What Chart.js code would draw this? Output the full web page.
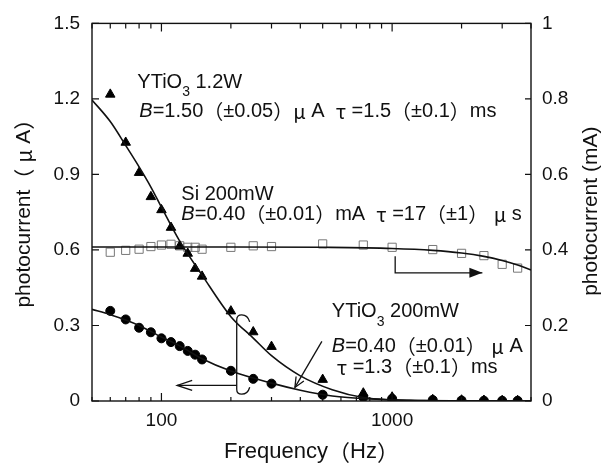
<!DOCTYPE html>
<html>
<head>
<meta charset="utf-8">
<script src="https://cdn.jsdelivr.net/npm/chart.js@4.4.1/dist/chart.umd.min.js"></script>
<style>
  html, body { margin: 0; background: #fff; }
  canvas { display: block; }
</style>
</head>
<body>
<canvas id="chart" width="604" height="471"></canvas>
<script>
// measured frequencies (Hz)
const freqs = [60, 70, 80, 90, 100, 110, 120, 130, 140, 150, 200, 250, 300, 500, 750, 1000, 1500, 2000, 2500, 3000, 3500];
// YTiO3 1.2W, photocurrent (uA)
const ytio1200 = [1.218, 1.027, 0.907, 0.811, 0.759, 0.689, 0.615, 0.586, 0.526, 0.495, 0.357, 0.274, 0.216, 0.085, 0.031, 0.015, 0.005, 0.003, 0.002, 0.001, 0.001];
// YTiO3 200mW, photocurrent (uA)
const ytio200 = [0.358, 0.324, 0.291, 0.273, 0.249, 0.234, 0.218, 0.199, 0.184, 0.165, 0.120, 0.088, 0.069, 0.025, 0.015, 0.009, 0.004, 0.002, 0.001, 0.001, 0.001];
// Si 200mW, photocurrent (mA, right axis)
const si200 = [0.394, 0.399, 0.402, 0.409, 0.413, 0.415, 0.411, 0.407, 0.407, 0.402, 0.407, 0.411, 0.409, 0.416, 0.413, 0.407, 0.401, 0.391, 0.385, 0.362, 0.352];

// fitted curves
const fit1200F = [50, 60, 70, 80, 90, 100, 120, 150, 200, 250, 300, 400, 550, 750, 1000, 1500, 2000, 4000];
const fit1200V = [1.196, 1.11, 1.015, 0.93, 0.85, 0.77, 0.635, 0.50, 0.335, 0.25, 0.18, 0.10, 0.045, 0.014, 0.005, 0.001, 0, 0];
const fit200F = [50, 60, 70, 80, 100, 120, 150, 200, 300, 400, 550, 800, 1200, 2000, 4000];
const fit200V = [0.364, 0.343, 0.322, 0.300, 0.254, 0.219, 0.168, 0.119, 0.071, 0.043, 0.020, 0.008, 0.003, 0.001, 0];
const fitSiF = [50, 200, 500, 1000, 1500, 2000, 2500, 3000, 3500, 4000];
const fitSiV = [0.408, 0.408, 0.407, 0.404, 0.399, 0.392, 0.383, 0.372, 0.360, 0.347];

// axis ticks
const leftTicks = [0, 0.3, 0.6, 0.9, 1.2, 1.5];
const rightTicks = [0, 0.2, 0.4, 0.6, 0.8, 1];
const xLabels = [100, 1000];
const xMinor = [50, 60, 70, 80, 90, 200, 300, 400, 500, 600, 700, 800, 900, 2000, 3000, 4000];

const LAT = '"Liberation Sans", Arial, sans-serif';
const CJK = '"Noto Sans CJK JP", sans-serif';
const wide = '（）μτ';

function pts(xs, ys) {
  return xs.map((f, i) => ({ x: f, y: ys[i] }));
}

// split text into runs of latin / cjk glyphs
function runs(parts, size) {
  const out = [];
  parts.forEach(([text, st]) => {
    let sz = st === 'sub' ? Math.round(size * 0.72) : size;
    let dy = st === 'sub' ? size * 0.5 : 0;
    let cur = null;
    for (const ch of text) {
      const fam = wide.includes(ch) ? CJK : LAT;
      const font = (st === 'i' ? 'italic ' : '') + sz + 'px ' + fam;
      if (cur && cur.font === font) cur.t += ch;
      else { cur = { t: ch, font: font, dy: dy }; out.push(cur); }
    }
  });
  return out;
}

function richWidth(ctx, rs) {
  let w = 0;
  rs.forEach(r => { ctx.font = r.font; w += ctx.measureText(r.t).width; });
  return w;
}

function drawRich(ctx, x, y, parts, size, center) {
  const rs = runs(parts, size);
  ctx.textBaseline = 'middle';
  ctx.textAlign = 'left';
  if (center) x -= richWidth(ctx, rs) / 2;
  rs.forEach(r => {
    ctx.font = r.font;
    ctx.fillText(r.t, x, y + r.dy);
    x += ctx.measureText(r.t).width;
  });
}

// annotations, anchored in data units (Hz, uA)
const notes = [
  { f: 78.6, v: 1.267, parts: [['YTiO'], ['3', 'sub'], [' 1.2W']] },
  { f: 80.2, v: 1.150, parts: [['B', 'i'], ['=1.50（±0.05）μ A  τ =1.5（±0.1）ms']] },
  { f: 122, v: 0.820, parts: [['Si 200mW']] },
  { f: 122, v: 0.742, parts: [['B', 'i'], ['=0.40（±0.01）mA  τ =17（±1） μ s']] },
  { f: 548, v: 0.354, parts: [['YTiO'], ['3', 'sub'], [' 200mW']] },
  { f: 548, v: 0.218, parts: [['B', 'i'], ['=0.40（±0.01） μ A']] },
  { f: 576, v: 0.132, parts: [['τ =1.3（±0.1）ms']] }
];

function head(ctx, tx, ty, ang, len, hw, filled) {
  const c = Math.cos(ang), s = Math.sin(ang);
  const bx = tx - c * len, by = ty - s * len;
  ctx.beginPath();
  ctx.moveTo(bx - s * hw, by + c * hw);
  ctx.lineTo(tx, ty);
  ctx.lineTo(bx + s * hw, by - c * hw);
  if (filled) { ctx.closePath(); ctx.fill(); } else ctx.stroke();
}

const decor = {
  id: 'decor',
  afterDraw(chart) {
    const { ctx, chartArea: a, scales: { x, y, y2 } } = chart;
    const X = f => x.getPixelForValue(f);
    const Y = v => y.getPixelForValue(v);
    ctx.save();
    ctx.strokeStyle = '#111';
    ctx.fillStyle = '#111';
    ctx.lineWidth = 1.4;
    ctx.strokeRect(a.left, a.top, a.right - a.left, a.bottom - a.top);

    ctx.lineWidth = 1.2;
    ctx.beginPath();
    xLabels.forEach(f => {
      const px = X(f);
      ctx.moveTo(px, a.bottom); ctx.lineTo(px, a.bottom - 8);
      ctx.moveTo(px, a.top); ctx.lineTo(px, a.top + 8);
    });
    xMinor.forEach(f => {
      const px = X(f);
      ctx.moveTo(px, a.bottom); ctx.lineTo(px, a.bottom - 4);
      ctx.moveTo(px, a.top); ctx.lineTo(px, a.top + 5);
    });
    leftTicks.forEach(v => {
      const py = Y(v);
      ctx.moveTo(a.left, py); ctx.lineTo(a.left + 7, py);
    });
    rightTicks.forEach(v => {
      const py = y2.getPixelForValue(v);
      ctx.moveTo(a.right, py); ctx.lineTo(a.right - 6, py);
    });
    ctx.stroke();

    // axis titles
    ctx.fillStyle = '#111';
    drawRich(ctx, (a.left + a.right) / 2, 452, [['Frequency（Hz）']], 22, true);
    ctx.save();
    ctx.translate(24, (a.top + a.bottom) / 2 - 4);
    ctx.rotate(-Math.PI / 2);
    drawRich(ctx, 0, 0, [['photocurrent（ μ A）']], 21, true);
    ctx.restore();
    ctx.save();
    ctx.translate(591, (a.top + a.bottom) / 2 - 1);
    ctx.rotate(-Math.PI / 2);
    drawRich(ctx, 0, 0, [['photocurrent (mA)']], 21, true);
    ctx.restore();

    // annotation text
    notes.forEach(n => drawRich(ctx, X(n.f), Y(n.v), n.parts, 20, false));

    ctx.lineWidth = 1.3;
    // bracket + left arrow (YTiO3 curves -> left axis)
    const bx = X(212), bt = Y(0.342), bb = Y(0.027);
    ctx.beginPath();
    ctx.moveTo(bx + 13, bt + 7);
    ctx.quadraticCurveTo(bx + 11, bt, bx + 5, bt);
    ctx.quadraticCurveTo(bx, bt, bx, bt + 5);
    ctx.lineTo(bx, bb - 5);
    ctx.quadraticCurveTo(bx, bb, bx + 5, bb);
    ctx.quadraticCurveTo(bx + 11, bb, bx + 13, bb - 7);
    ctx.stroke();
    const ay = Y(0.062), tipL = X(117);
    ctx.beginPath();
    ctx.moveTo(bx, ay); ctx.lineTo(tipL, ay);
    ctx.stroke();
    head(ctx, tipL, ay, Math.PI, 15, 5, false);

    // Si -> right axis
    const sx = X(1031), sTop = Y(0.575), sy = Y(0.509), tipR = X(2462);
    ctx.beginPath();
    ctx.moveTo(sx, sTop); ctx.lineTo(sx, sy); ctx.lineTo(tipR, sy);
    ctx.stroke();
    head(ctx, tipR, sy, 0, 13, 5, true);

    // pointer to the 200mW fit
    const p0x = X(496), p0y = Y(0.237), p1x = X(379), p1y = Y(0.054);
    ctx.beginPath();
    ctx.moveTo(p0x, p0y); ctx.lineTo(p1x, p1y);
    ctx.stroke();
    head(ctx, p1x, p1y, Math.atan2(p1y - p0y, p1x - p0x), 10, 4.5, false);
    ctx.restore();
  }
};

const tickFont = { family: LAT, size: 19 };

new Chart(document.getElementById('chart').getContext('2d'), {
  type: 'scatter',
  data: {
    datasets: [
      {
        label: 'YTiO3 1.2W fit', data: pts(fit1200F, fit1200V), yAxisID: 'y',
        showLine: true, pointRadius: 0, borderColor: '#111', borderWidth: 1.6,
        cubicInterpolationMode: 'monotone'
      },
      {
        label: 'YTiO3 200mW fit', data: pts(fit200F, fit200V), yAxisID: 'y',
        showLine: true, pointRadius: 0, borderColor: '#111', borderWidth: 1.6,
        cubicInterpolationMode: 'monotone'
      },
      {
        label: 'Si 200mW fit', data: pts(fitSiF, fitSiV), yAxisID: 'y2',
        showLine: true, pointRadius: 0, borderColor: '#111', borderWidth: 1.6,
        cubicInterpolationMode: 'monotone'
      },
      {
        label: 'YTiO3 1.2W', data: pts(freqs, ytio1200), yAxisID: 'y',
        pointStyle: 'triangle', pointRadius: 5.5, backgroundColor: '#000', borderColor: '#000', borderWidth: 1
      },
      {
        label: 'YTiO3 200mW', data: pts(freqs, ytio200), yAxisID: 'y',
        pointStyle: 'circle', pointRadius: 4.5, backgroundColor: '#000', borderColor: '#000', borderWidth: 1
      },
      {
        label: 'Si 200mW', data: pts(freqs, si200), yAxisID: 'y2',
        pointStyle: 'rect', pointRadius: 5.8, backgroundColor: 'rgba(0,0,0,0)', borderColor: '#777', borderWidth: 1
      }
    ]
  },
  options: {
    responsive: false,
    animation: false,
    devicePixelRatio: 1,
    layout: { padding: { top: 15, left: 0, right: 0, bottom: 0 } },
    plugins: { legend: { display: false }, tooltip: { enabled: false } },
    scales: {
      x: {
        type: 'logarithmic', min: 50, max: 4000,
        grid: { display: false, drawTicks: false }, border: { display: false },
        ticks: { font: tickFont, color: '#111', padding: 8, maxRotation: 0, autoSkip: false, callback: v => String(v) },
        afterBuildTicks: s => { s.ticks = xLabels.map(v => ({ value: v })); },
        afterFit: s => { s.height = 70; }
      },
      y: {
        position: 'left', min: 0, max: 1.5,
        grid: { display: false, drawTicks: false }, border: { display: false },
        ticks: { font: tickFont, color: '#111', padding: 12, callback: v => String(v) },
        afterBuildTicks: s => { s.ticks = leftTicks.map(v => ({ value: v })); },
        afterFit: s => { s.width = 92; }
      },
      y2: {
        position: 'right', min: 0, max: 1,
        grid: { display: false, drawTicks: false }, border: { display: false },
        ticks: { font: tickFont, color: '#111', padding: 11, callback: v => String(v) },
        afterBuildTicks: s => { s.ticks = rightTicks.map(v => ({ value: v })); },
        afterFit: s => { s.width = 73; }
      }
    }
  },
  plugins: [decor]
});
</script>
</body>
</html>
